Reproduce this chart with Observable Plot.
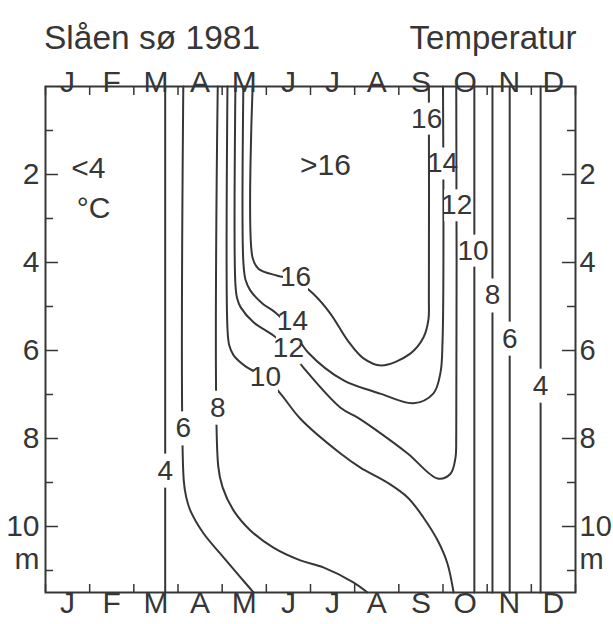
<!DOCTYPE html>
<html>
<head>
<meta charset="utf-8">
<script src="https://cdn.jsdelivr.net/npm/d3@7"></script>
<script src="https://cdn.jsdelivr.net/npm/@observablehq/plot@0.6"></script>
<style>
  html, body { margin: 0; padding: 0; background: #ffffff; }
  #chart svg { display: block; }
</style>
</head>
<body>
<div id="chart"></div>
<script>
// ---- texts ----
const title = "Slåen sø 1981";
const subject = "Temperatur";
const months = ["J", "F", "M", "A", "M", "J", "J", "A", "S", "O", "N", "D"];
const monthBounds = [0, 1, 2, 3, 4, 5, 6, 7, 8, 9, 10, 11, 12];
const depthMajor = [2, 4, 6, 8, 10];
const depthMinor = [1, 3, 5, 7, 9, 11];
const depthUnit = "m";
const regionNotes = [
  { t: "<4", m: 0.97, d: 1.85 },
  { t: "°C", m: 1.09, d: 2.78 },
  { t: ">16", m: 6.34, d: 1.80 }
];

// ---- isotherms: [month (0 = 1 Jan), depth m] ----
const iso4Spring  = [[2.71, 0], [2.71, 11.5]];
const iso6Spring  = [[3.12, 0], [3.13, 8.95], [3.19, 9.35], [3.28, 9.64], [3.58, 10.16], [4.03, 10.70], [4.42, 11.16], [4.71, 11.5]];
const iso8Spring  = [[3.90, 0], [3.91, 8.62], [4.01, 9.11], [4.26, 9.64], [4.64, 10.09], [5.16, 10.48], [5.77, 10.77], [6.29, 10.93], [6.97, 11.27], [7.29, 11.5]];
const iso10Spring = [[4.12, 0], [4.12, 5.5], [4.16, 5.88], [4.26, 6.11], [4.53, 6.36], [4.98, 6.62], [5.32, 6.98], [5.77, 7.55], [6.68, 8.34], [7.13, 8.66], [7.74, 9.00], [8.20, 9.34], [8.56, 9.80], [8.88, 10.32], [9.10, 10.84], [9.24, 11.5]];
const iso12 = [[4.30, 0], [4.30, 4.5], [4.34, 4.82], [4.42, 5.02], [4.71, 5.36], [5.16, 5.66], [5.50, 5.95], [5.84, 6.39], [6.68, 7.30], [7.06, 7.52], [7.43, 7.77], [8.20, 8.34], [8.88, 8.91], [9.17, 8.80], [9.28, 8.45], [9.30, 7.9], [9.30, 0]];
const iso14 = [[4.48, 0], [4.48, 4.0], [4.53, 4.4], [4.64, 4.64], [4.91, 4.93], [5.21, 5.14], [5.60, 5.55], [5.95, 6.05], [6.75, 6.68], [7.36, 6.91], [7.58, 6.98], [8.33, 7.20], [8.78, 6.98], [8.94, 6.52], [8.99, 5.77], [9.00, 0]];
const iso16 = [[4.69, 0], [4.69, 3.9], [4.82, 4.14], [5.25, 4.30], [5.66, 4.40], [6.05, 4.70], [6.45, 5.16], [6.84, 5.77], [7.20, 6.18], [7.60, 6.34], [8.26, 6.07], [8.56, 5.70], [8.67, 5.30], [8.68, 4.80], [8.68, 0]];
const iso10Autumn = [[9.71, 0], [9.71, 11.5]];
const iso8Autumn  = [[10.12, 0], [10.12, 11.5]];
const iso6Autumn  = [[10.51, 0], [10.51, 11.5]];
const iso4Autumn  = [[11.21, 0], [11.21, 11.5]];

const isoLabels = [
  { t: "4",  m: 2.71, d: 8.73 },
  { t: "6",  m: 3.12, d: 7.77 },
  { t: "8",  m: 3.90, d: 7.30 },
  { t: "10", m: 4.98, d: 6.61 },
  { t: "12", m: 5.50, d: 5.95 },
  { t: "14", m: 5.59, d: 5.32 },
  { t: "16", m: 5.66, d: 4.34 },
  { t: "16", m: 8.63, d: 0.73 },
  { t: "14", m: 8.99, d: 1.75 },
  { t: "12", m: 9.31, d: 2.70 },
  { t: "10", m: 9.68, d: 3.73 },
  { t: "8",  m: 10.12, d: 4.75 },
  { t: "6",  m: 10.51, d: 5.73 },
  { t: "4",  m: 11.21, d: 6.80 }
];

const isotherms = [
  { id: "4s", pts: iso4Spring }, { id: "6s", pts: iso6Spring }, { id: "8s", pts: iso8Spring },
  { id: "10s", pts: iso10Spring }, { id: "12", pts: iso12 }, { id: "14", pts: iso14 },
  { id: "16", pts: iso16 }, { id: "10a", pts: iso10Autumn }, { id: "8a", pts: iso8Autumn },
  { id: "6a", pts: iso6Autumn }, { id: "4a", pts: iso4Autumn }
];
const rows = isotherms.flatMap(({ id, pts }) => pts.map(([m, d]) => ({ id, m, d })));

// ---- style ----
const ink = "#363636";
const font = "'Liberation Sans', Arial, sans-serif";
const W = 613, H = 624, ML = 45, MR = 38, MT = 86, MB = 32;
const frameW = W - ML - MR, frameH = H - MT - MB;

// white gap behind each contour label (pixel-sized rectangle symbol)
const gapBox = (w, h) => ({ draw(ctx) { ctx.rect(-w / 2, -h / 2, w, h); } });
const oneDigit = isoLabels.filter(d => d.t.length === 1);
const twoDigit = isoLabels.filter(d => d.t.length === 2);

const chart = Plot.plot({
  width: W, height: H,
  marginLeft: ML, marginRight: MR, marginTop: MT, marginBottom: MB,
  x: { domain: [0, 12], axis: null },
  y: { domain: [0, 11.5], reverse: true, axis: null },
  style: { fontFamily: font, background: "#ffffff", color: ink },
  marks: [
    Plot.line(rows, { x: "m", y: "d", z: "id", curve: "catmull-rom", stroke: ink, strokeWidth: 2 }),
    Plot.dot(oneDigit, { x: "m", y: "d", r: 1, symbol: gapBox(15, 34), fill: "#ffffff", stroke: "none" }),
    Plot.dot(twoDigit, { x: "m", y: "d", r: 1, symbol: gapBox(25, 32), fill: "#ffffff", stroke: "none" }),
    Plot.text(isoLabels, { x: "m", y: "d", text: "t", fontSize: 28, fill: ink }),
    Plot.text(regionNotes, { x: "m", y: "d", text: "t", fontSize: 30, fill: ink }),
    Plot.frame({ stroke: ink, strokeWidth: 2 }),
    // month ticks (inward)
    Plot.tickX(monthBounds, { x: d => d, stroke: ink, strokeWidth: 1.5, insetBottom: frameH - 9 }),
    Plot.tickX(monthBounds, { x: d => d, stroke: ink, strokeWidth: 1.5, insetTop: frameH - 8 }),
    // depth ticks (inward)
    Plot.tickY(depthMajor, { y: d => d, stroke: ink, strokeWidth: 1.5, insetRight: frameW - 13 }),
    Plot.tickY(depthMajor, { y: d => d, stroke: ink, strokeWidth: 1.5, insetLeft: frameW - 13 }),
    Plot.tickY(depthMinor, { y: d => d, stroke: ink, strokeWidth: 1.5, insetRight: frameW - 8 }),
    Plot.tickY(depthMinor, { y: d => d, stroke: ink, strokeWidth: 1.5, insetLeft: frameW - 8 }),
    // month labels
    Plot.text(months, { x: (d, i) => i + 0.5, text: d => d, frameAnchor: "top", dy: -16, fontSize: 30, fill: ink }),
    Plot.text(months, { x: (d, i) => i + 0.5, text: d => d, frameAnchor: "bottom", dy: 20, fontSize: 30, fill: ink }),
    // depth labels
    Plot.text(depthMajor, { y: d => d, text: d => String(d), frameAnchor: "left", dx: -6, textAnchor: "end", fontSize: 30, fill: ink }),
    Plot.text(depthMajor, { y: d => d, text: d => String(d), frameAnchor: "right", dx: 4, textAnchor: "start", fontSize: 29, fill: ink }),
    Plot.text([depthUnit], { y: () => 10.75, text: d => d, frameAnchor: "left", dx: -6, textAnchor: "end", fontSize: 30, fill: ink }),
    Plot.text([depthUnit], { y: () => 10.75, text: d => d, frameAnchor: "right", dx: 4, textAnchor: "start", fontSize: 29, fill: ink }),
    // title row
    Plot.text([title], { text: d => d, frameAnchor: "top-left", dx: -1.5, dy: -61, textAnchor: "start", fontSize: 33.5, fill: ink }),
    Plot.text([subject], { text: d => d, frameAnchor: "top-right", dx: 1, dy: -61, textAnchor: "end", fontSize: 33, fill: ink })
  ]
});
document.getElementById("chart").appendChild(chart);
</script>
</body>
</html>
